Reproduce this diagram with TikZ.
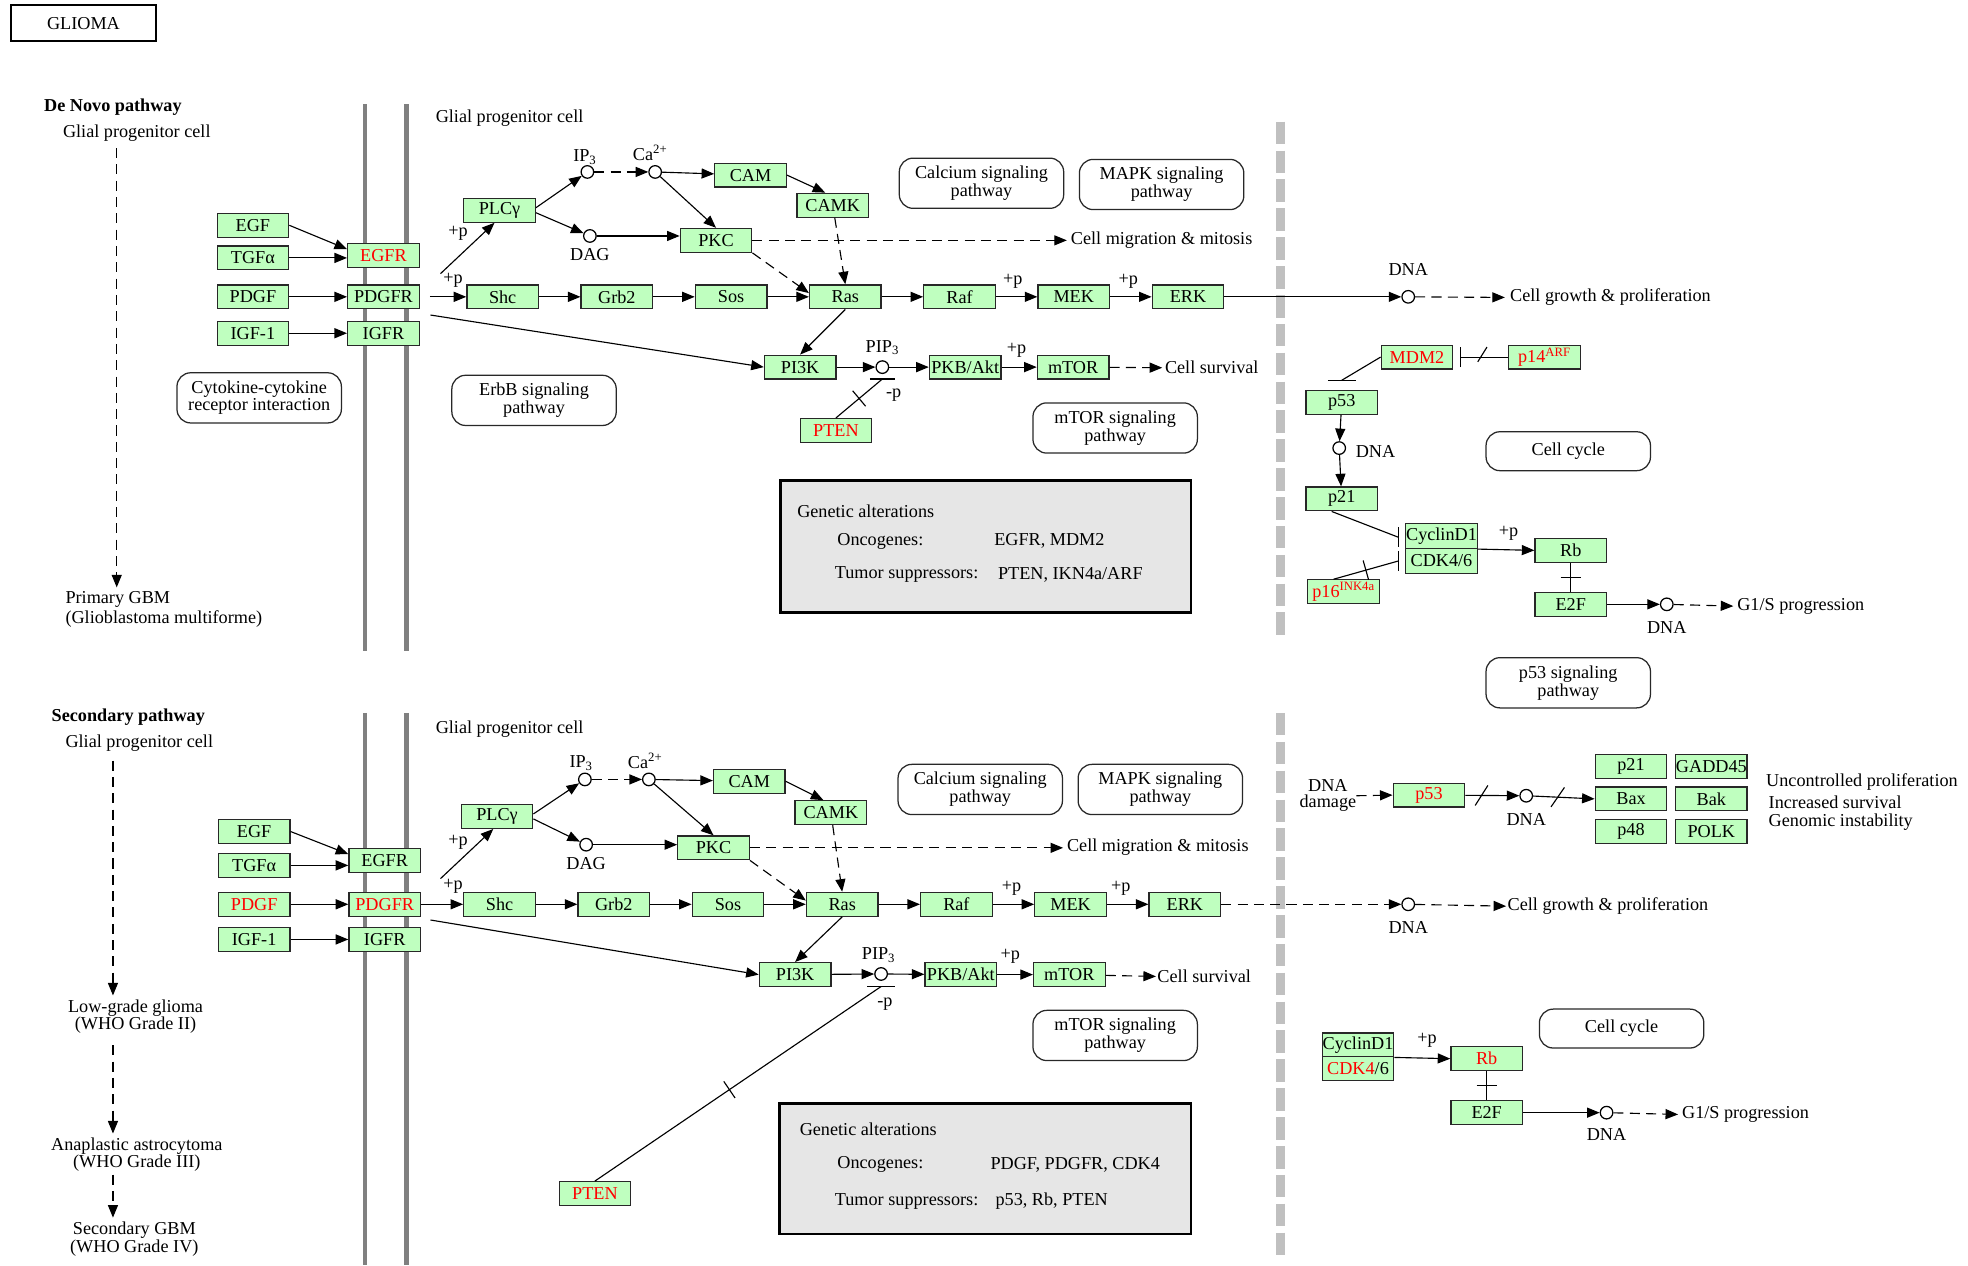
\documentclass[tikz,border=0pt]{standalone}
\usepackage{fontspec}
\setmainfont{Liberation Serif}
\usepackage{tikz}
\usetikzlibrary{arrows.meta,positioning,decorations.markings}
\definecolor{GeneFill}{RGB}{191,255,191}
\definecolor{BoxLine}{RGB}{40,40,40}
\definecolor{Altered}{RGB}{255,0,0}
\definecolor{Membrane}{RGB}{128,128,128}
\definecolor{Divider}{RGB}{192,192,192}
\definecolor{NoteFill}{RGB}{230,230,230}
\newcommand{\genefont}{\fontsize{14.5}{15}\selectfont}
\newcommand{\mapfont}{\fontsize{14.5}{12.5}\selectfont}
\tikzset{
  genebox/.style={draw=BoxLine,line width=1pt,fill=GeneFill,minimum width=57pt,minimum height=19pt,inner sep=0pt,font=\genefont},
  hitbox/.style={genebox,text=Altered},
  mapbox/.style={draw=BoxLine,line width=1pt,rounded corners=11pt,minimum width=131pt,minimum height=40pt,inner sep=0pt,align=center,font=\mapfont},
  notebox/.style={draw=black,line width=2pt,fill=NoteFill,minimum width=327pt,minimum height=105pt},
  cpd/.style={circle,draw=black,line width=1pt,fill=white,minimum size=10pt,inner sep=0pt},
  lbl/.style={inner sep=0pt,font=\genefont},
  stage/.style={inner sep=0pt,align=center,font=\mapfont},
  link/.style={line width=0.9pt},
  flow/.style={link,-{Triangle[length=10pt,width=8pt]}},
  dflow/.style={flow,dash pattern=on 8pt off 5pt},
  inhib/.style={link,-{Bar[width=16pt]}},
  membrane/.style={line width=3.5pt,draw=Membrane},
  divider/.style={line width=7pt,draw=Divider,dash pattern=on 18pt off 5pt},
  crossmk/.style={postaction=decorate,decoration={markings,mark=at position #1 with {\draw[-,solid,line width=0.9pt] (0,-8pt)--(0,8pt);}}},
  slashmk/.style={postaction=decorate,decoration={markings,mark=at position #1 with {\draw[-,solid,line width=0.9pt] (-5pt,-8pt)--(5pt,8pt);}}}
}
\begin{document}
\begin{tikzpicture}[x=1pt,y=-1pt,node distance=33pt]
\useasboundingbox (0,0) rectangle (1568,1008);
% membranes and divider
\draw[membrane] (291,83) -- (291,519); \draw[membrane] (324,83) -- (324,519);
\draw[membrane] (291,568) -- (291,1008); \draw[membrane] (324,568) -- (324,1008);
\draw[divider] (1020,97) -- (1020,510); \draw[divider] (1020,568) -- (1020,1004);
\node[draw,line width=1.6pt,minimum width=115pt,minimum height=29pt,font=\genefont] (title) at (66.5,18.5) {GLIOMA};

% ---- De Novo pathway ----
\node[lbl,anchor=west,font=\genefont\bfseries] (denovo) at (35,85) {De Novo pathway};
\node[lbl,anchor=west] (glialL1) at (50,106) {Glial progenitor cell};
\node[lbl,anchor=north west,align=left,font=\fontsize{14.5}{16}\selectfont] (gbmA) at (52,471) {Primary GBM\\(Glioblastoma multiforme)};
\coordinate (stemA) at (93,118);
\draw[dflow,shorten >=3pt] (stemA) -- (stemA |- gbmA.north);

\node[genebox] (egfA) at (201.5,179.5) {EGF};
\node[genebox] (tgfA) at (201.5,205.5) {TGFα};
\node[genebox] (pdgfA) at (201.5,236.5) {PDGF};
\node[genebox] (igfA) at (201.5,265.5) {IGF-1};
\node[hitbox] (egfrA) at (305.5,203.5) {EGFR};
\node[genebox] (pdgfrA) at (305.5,236.5) {PDGFR};
\node[genebox] (igfrA) at (305.5,265.5) {IGFR};
\node[lbl,anchor=west] (glialA) at (347,94) {Glial progenitor cell};
\node[genebox] (plcgA) at (398,167.5) {PLCγ};
\node[cpd] (ip3A) at (468,137) {};
\node[lbl] (ip3tA) at (466,125) {IP\textsubscript{3}};
\node[cpd] (caA) at (522,137) {};
\node[lbl] (catA) at (518,122) {Ca\textsuperscript{2+}};
\node[cpd] (dagA) at (470,188) {};
\node[lbl] (dagtA) at (470,203) {DAG};
\node[genebox] (camA) at (598,139.5) {CAM};
\node[genebox] (camkA) at (663.5,163.5) {CAMK};
\node[genebox] (pkcA) at (570.5,191.5) {PKC};
\node[genebox] (shcA) at (400.5,236.5) {Shc};
\node[genebox,right=of shcA] (grb2A) {Grb2};
\node[genebox,right=of grb2A] (sosA) {Sos};
\node[genebox,right=of sosA] (rasA) {Ras};
\node[genebox,right=of rasA] (rafA) {Raf};
\node[genebox,right=of rafA] (mekA) {MEK};
\node[genebox,right=of mekA] (erkA) {ERK};
\node[cpd] (dnaA) at (1122,236.5) {};
\node[lbl] (dnatA) at (1122,215) {DNA};
\node[lbl,anchor=west] (growA) at (1203,237) {Cell growth \& proliferation};
\node[lbl,anchor=west] (migrA) at (853,191) {Cell migration \& mitosis};
\node[genebox] (pi3kA) at (637.5,292.5) {PI3K};
\node[cpd] (pip3A) at (703,292.5) {};
\node[lbl] (pip3tA) at (703,277) {PIP\textsubscript{3}};
\node[genebox] (pkbA) at (769,292.5) {PKB/Akt};
\node[genebox] (mtorA) at (855,292.5) {mTOR};
\node[lbl,anchor=west] (survA) at (928,293) {Cell survival};
\node[hitbox] (ptenA) at (666,343) {PTEN};
\node[lbl] (pA1) at (365,186) {+p};
\node[lbl] (pA2) at (361,223) {+p};
\node[lbl] (pA3) at (807,224) {+p};
\node[lbl] (pA4) at (899,224) {+p};
\node[lbl] (pA5) at (810,279) {+p};
\node[lbl] (mA1) at (712,315) {-p};
\node[mapbox] (cytoA) at (206.5,317) {Cytokine-cytokine\\receptor interaction};
\node[mapbox] (erbbA) at (425.5,319) {ErbB signaling\\pathway};
\node[mapbox] (calcA) at (782,146) {Calcium signaling\\pathway};
\node[mapbox] (mapkA) at (925.5,147) {MAPK signaling\\pathway};
\node[mapbox] (mtorpA) at (888.5,341) {mTOR signaling\\pathway};
\node[mapbox,minimum height=31pt] (ccA) at (1249.5,359.5) {Cell cycle};
\node[mapbox] (p53pA) at (1249.5,544) {p53 signaling\\pathway};
\node[notebox] (noteA) at (785.5,435.5) {};
\node[lbl,anchor=west] (galtA) at (635,407) {Genetic alterations};
\node[lbl,anchor=west] (oncA) at (667,431) {Oncogenes:};
\node[lbl,anchor=west] (oncvA) at (792,431) {EGFR, MDM2};
\node[lbl,anchor=west] (tsA) at (665,458) {Tumor suppressors:};
\node[lbl,anchor=west] (tsvA) at (795,458) {PTEN, IKN4a/ARF};
% right part
\node[hitbox] (mdm2A) at (1129,284.5) {MDM2};
\node[hitbox] (p14A) at (1230.5,284.5) {p14\textsuperscript{ARF}};
\node[genebox] (p53A) at (1069,320.5) {p53};
\node[cpd] (dna2A) at (1067,357) {};
\node[lbl,anchor=west] (dna2tA) at (1080,360) {DNA};
\node[genebox] (p21A) at (1069,397.5) {p21};
\node[genebox,minimum height=20pt] (cycA) at (1148.5,427) {CyclinD1};
\node[genebox,minimum height=20pt] (cdkA) at (1148.5,447) {CDK4/6};
\node[hitbox] (p16A) at (1070.5,471.5) {p16\textsuperscript{INK4a}};
\node[genebox] (rbA) at (1251.5,438.5) {Rb};
\node[genebox] (e2fA) at (1251.5,481.5) {E2F};
\node[cpd] (dna3A) at (1328,481.5) {};
\node[lbl] (dna3tA) at (1328,500) {DNA};
\node[lbl,anchor=west] (g1sA) at (1384,483) {G1/S progression};
\node[lbl] (pA6) at (1202,425) {+p};
\coordinate (rcp1A) at (351,218);
\coordinate (rcp2A) at (343,251);
\coordinate (ptbarA) at (703,302);
\coordinate (mdmbarA) at (1069,303);
\coordinate (cycbarA) at (1114,428);
\coordinate (cdkbarA) at (1114,447);

\draw[flow] (egfA.east) -- ([yshift=5pt]egfrA.west); \draw[flow] (tgfA.east) -- (tgfA.east -| egfrA.west);
\draw[flow] (pdgfA) -- (pdgfrA); \draw[flow] (igfA) -- (igfrA);
\draw[flow] (rcp1A) -- ([xshift=-4pt]plcgA.south); \draw[flow,shorten <=8pt] (pdgfrA) -- (shcA); \draw[flow] (rcp2A) -- (pi3kA.west);
\draw[flow] ([yshift=2pt]plcgA.east) -- (ip3A); \draw[flow] ([yshift=-2pt]plcgA.east) -- (dagA);
\draw[dflow] (ip3A) -- (caA); \draw[flow] (caA) -- (camA); \draw[flow] (caA) -- (pkcA.north); \draw[flow] (dagA) -- (dagA -| pkcA.west);
\draw[flow] (camA.east) -- ([xshift=-6pt]camkA.north); \draw[dflow] (camkA) -- (rasA.north);
\draw[dflow] (pkcA.south east) -- ([yshift=3pt]rasA.west); \draw[dflow,shorten >=3pt] (pkcA.east) -- (pkcA.east -| migrA.west);
\draw[flow] (shcA) -- (grb2A); \draw[flow] (grb2A) -- (sosA); \draw[flow] (sosA) -- (rasA); \draw[flow] (rasA) -- (rafA); \draw[flow] (rafA) -- (mekA); \draw[flow] (mekA) -- (erkA);
\draw[flow] (erkA) -- (dnaA); \draw[dflow,shorten >=4pt] (dnaA) -- (growA.west);
\draw[flow] (rasA.south) -- (pi3kA.north); \draw[flow] (pi3kA) -- (pip3A); \draw[flow] (pip3A) -- (pkbA); \draw[flow] (pkbA) -- (mtorA); \draw[dflow,shorten >=2pt] (mtorA) -- (survA.west);
\draw[link,crossmk=0.5] (ptenA.north) -- (ptbarA); \draw[link] ([xshift=-10pt]ptbarA) -- ([xshift=10pt]ptbarA);
\draw[inhib,slashmk=0.5,shorten >=5pt] (p14A) -- (mdm2A);
\draw[link] (mdm2A.west) -- (mdmbarA); \draw[link] ([xshift=-11pt]mdmbarA) -- ([xshift=11pt]mdmbarA);
\draw[flow] (p53A) -- (dna2A); \draw[flow] (dna2A) -- (p21A);
\draw[link] ([xshift=-8pt]p21A.south) -- (cycbarA); \draw[link] ([yshift=8pt]cycbarA) -- ([yshift=-8pt]cycbarA);
\draw[link,crossmk=0.5] ([xshift=-8pt]p16A.north) -- (cdkbarA); \draw[link] ([yshift=8pt]cdkbarA) -- ([yshift=-8pt]cdkbarA);
\draw[flow] (cycA.south east) -- (rbA.west); \draw[link,crossmk=0.5] (rbA) -- (e2fA);
\draw[flow] (e2fA) -- (dna3A); \draw[dflow,shorten >=3pt] (dna3A) -- (g1sA.west);

% ---- Secondary pathway ----
\node[lbl,anchor=west,font=\genefont\bfseries] (secpath) at (41,571) {Secondary pathway};
\node[lbl,anchor=west] (glialL2) at (52,592) {Glial progenitor cell};
\node[stage] (lowB) at (108,810) {Low-grade glioma\\(WHO Grade II)};
\node[stage] (anaB) at (109,920) {Anaplastic astrocytoma\\(WHO Grade III)};
\node[stage] (secB) at (107,987) {Secondary GBM\\(WHO Grade IV)};
\coordinate (stemB) at (90,606);
\draw[dflow,shorten >=3pt] (stemB) -- (stemB |- lowB.north);
\draw[dflow,shorten <=9pt,shorten >=3pt] (stemB |- lowB.south) -- (stemB |- anaB.north);
\draw[dflow,shorten <=2pt,shorten >=3pt] (stemB |- anaB.south) -- (stemB |- secB.north);

\node[genebox] (egfB) at (202.5,662.5) {EGF};
\node[genebox] (tgfB) at (202.5,689.5) {TGFα};
\node[hitbox] (pdgfB) at (202.5,720.5) {PDGF};
\node[genebox] (igfB) at (202.5,748.5) {IGF-1};
\node[genebox] (egfrB) at (306.5,685.5) {EGFR};
\node[hitbox] (pdgfrB) at (306.5,720.5) {PDGFR};
\node[genebox] (igfrB) at (306.5,748.5) {IGFR};
\node[lbl,anchor=west] (glialB) at (347,581) {Glial progenitor cell};
\node[genebox] (plcgB) at (396,650.5) {PLCγ};
\node[cpd] (ip3B) at (466,621) {};
\node[lbl] (ip3tB) at (463,608) {IP\textsubscript{3}};
\node[cpd] (caB) at (517,621) {};
\node[lbl] (catB) at (514,606) {Ca\textsuperscript{2+}};
\node[cpd] (dagB) at (467,673) {};
\node[lbl] (dagtB) at (467,688) {DAG};
\node[genebox] (camB) at (597,622.5) {CAM};
\node[genebox] (camkB) at (662,647.5) {CAMK};
\node[genebox] (pkcB) at (568.5,675.5) {PKC};
\node[genebox] (shcB) at (398,720.5) {Shc};
\node[genebox,right=of shcB] (grb2B) {Grb2};
\node[genebox,right=of grb2B] (sosB) {Sos};
\node[genebox,right=of sosB] (rasB) {Ras};
\node[genebox,right=of rasB] (rafB) {Raf};
\node[genebox,right=of rafB] (mekB) {MEK};
\node[genebox,right=of mekB] (erkB) {ERK};
\node[cpd] (dnaB) at (1122,720.5) {};
\node[lbl] (dnatB) at (1122,739) {DNA};
\node[lbl,anchor=west] (growB) at (1201,722) {Cell growth \& proliferation};
\node[lbl,anchor=west] (migrB) at (850,675) {Cell migration \& mitosis};
\node[genebox] (pi3kB) at (633.5,776.5) {PI3K};
\node[cpd] (pip3B) at (702,776) {};
\node[lbl] (pip3tB) at (700,761) {PIP\textsubscript{3}};
\node[genebox] (pkbB) at (765.5,776.5) {PKB/Akt};
\node[genebox] (mtorB) at (852,776.5) {mTOR};
\node[lbl,anchor=west] (survB) at (922,778) {Cell survival};
\node[hitbox] (ptenB) at (474,951) {PTEN};
\node[lbl] (pB1) at (365,671) {+p};
\node[lbl] (pB2) at (361,706) {+p};
\node[lbl] (pB3) at (806,708) {+p};
\node[lbl] (pB4) at (893,708) {+p};
\node[lbl] (pB5) at (805,762) {+p};
\node[lbl] (mB1) at (705,800) {-p};
\node[mapbox] (calcB) at (781,629) {Calcium signaling\\pathway};
\node[mapbox] (mapkB) at (924.5,629) {MAPK signaling\\pathway};
\node[mapbox] (mtorpB) at (888.5,825) {mTOR signaling\\pathway};
\node[mapbox,minimum height=31pt] (ccB) at (1292,819.5) {Cell cycle};
\node[notebox,minimum width=328pt,minimum height=104pt] (noteB) at (785,931) {};
\node[lbl,anchor=west] (galtB) at (637,900) {Genetic alterations};
\node[lbl,anchor=west] (oncB) at (667,928) {Oncogenes:};
\node[lbl,anchor=west] (oncvB) at (789,928) {PDGF, PDGFR, CDK4};
\node[lbl,anchor=west] (tsB) at (665,957) {Tumor suppressors:};
\node[lbl,anchor=west] (tsvB) at (793,957) {p53, Rb, PTEN};
% right part
\node[stage] (dmgB) at (1058,634) {DNA\\damage};
\node[hitbox] (p53B) at (1138.5,633.5) {p53};
\node[cpd] (dna2B) at (1216,634) {};
\node[lbl] (dna2tB) at (1216,653) {DNA};
\node[genebox] (p21B) at (1299.5,610.5) {p21};
\node[genebox] (gaddB) at (1363.5,610.5) {GADD45};
\node[genebox] (baxB) at (1299.5,636.5) {Bax};
\node[genebox] (bakB) at (1363.5,636.5) {Bak};
\node[genebox] (p48B) at (1299.5,662.5) {p48};
\node[genebox] (polkB) at (1363.5,662.5) {POLK};
\node[lbl,anchor=west] (uncB) at (1407,623) {Uncontrolled proliferation};
\node[lbl,anchor=west] (incB) at (1409,639) {Increased survival};
\node[lbl,anchor=west] (genB) at (1409,655) {Genomic instability};
\node[genebox] (cycB) at (1082,832.5) {CyclinD1};
\node[genebox] (cdkB) at (1082,851.5) {\textcolor{Altered}{CDK4}/6};
\node[hitbox] (rbB) at (1184.5,843.5) {Rb};
\node[genebox] (e2fB) at (1184.5,886.5) {E2F};
\node[cpd] (dna3B) at (1280,886.5) {};
\node[lbl] (dna3tB) at (1280,904) {DNA};
\node[lbl,anchor=west] (g1sB) at (1340,888) {G1/S progression};
\node[lbl] (pB6) at (1137,829) {+p};
\coordinate (rcp1B) at (351,700);
\coordinate (rcp2B) at (343,733);
\coordinate (ptbarB) at (702,786);

\draw[flow] (egfB.east) -- ([yshift=5pt]egfrB.west); \draw[flow] (tgfB.east) -- (tgfB.east -| egfrB.west);
\draw[flow] (pdgfB) -- (pdgfrB); \draw[flow] (igfB) -- (igfrB);
\draw[flow] (rcp1B) -- ([xshift=-3pt]plcgB.south); \draw[flow] (pdgfrB) -- (shcB); \draw[flow] (rcp2B) -- (pi3kB.west);
\draw[flow] ([yshift=2pt]plcgB.east) -- (ip3B); \draw[flow] ([yshift=-2pt]plcgB.east) -- (dagB);
\draw[dflow] (ip3B) -- (caB); \draw[flow] (caB) -- (camB); \draw[flow] (caB) -- (pkcB.north); \draw[flow] (dagB) -- (dagB -| pkcB.west);
\draw[flow] (camB.east) -- ([xshift=-6pt]camkB.north); \draw[dflow] (camkB) -- (rasB.north);
\draw[dflow] (pkcB.south east) -- ([yshift=3pt]rasB.west); \draw[dflow,shorten >=3pt] (pkcB.east) -- (pkcB.east -| migrB.west);
\draw[flow] (shcB) -- (grb2B); \draw[flow] (grb2B) -- (sosB); \draw[flow] (sosB) -- (rasB); \draw[flow] (rasB) -- (rafB); \draw[flow] (rafB) -- (mekB); \draw[flow] (mekB) -- (erkB);
\draw[dflow] (erkB) -- (dnaB); \draw[dflow,shorten >=1pt] (dnaB) -- (growB.west);
\draw[flow] (rasB.south) -- (pi3kB.north); \draw[flow] (pi3kB) -- (pip3B); \draw[flow] (pip3B) -- (pkbB); \draw[flow] (pkbB) -- (mtorB); \draw[dflow,shorten >=1pt] (mtorB) -- (survB.west);
\draw[link,crossmk=0.47] (ptenB.north) -- (ptbarB); \draw[link] ([xshift=-11pt]ptbarB) -- ([xshift=11pt]ptbarB);
\draw[dflow] (dmgB.east) -- (p53B.west);
\draw[flow,slashmk=0.3] (p53B) -- (dna2B); \draw[flow,slashmk=0.4] (dna2B) -- (baxB.west);
\draw[flow] (cycB.south east) -- (rbB.west); \draw[link,crossmk=0.5] (rbB) -- (e2fB);
\draw[flow] (e2fB) -- (dna3B); \draw[dflow,shorten >=3pt] (dna3B) -- (g1sB.west);
\end{tikzpicture}
\end{document}
